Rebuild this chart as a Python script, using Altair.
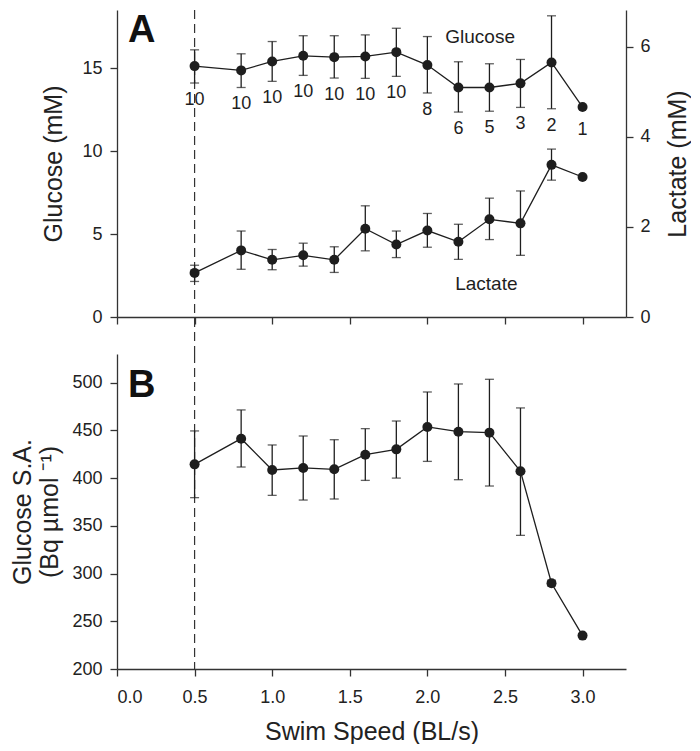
import altair as alt
import pandas as pd

# ---------------- data ----------------
speed = [0.5, 0.8, 1.0, 1.2, 1.4, 1.6, 1.8, 2.0, 2.2, 2.4, 2.6, 2.8, 3.0]

glucose    = [15.12, 14.86, 15.40, 15.74, 15.66, 15.70, 15.96, 15.18, 13.83, 13.83, 14.08, 15.34, 12.65]
glucose_lo = [14.10, 13.83, 14.20, 14.56, 14.40, 14.38, 14.50, 13.50, 12.35, 12.40, 12.63, 12.55, None]
glucose_hi = [16.10, 15.86, 16.60, 16.95, 16.95, 17.00, 17.40, 16.90, 15.38, 15.26, 15.52, 18.15, None]
n_fish     = ["10", "10", "10", "10", "10", "10", "10", "8", "6", "5", "3", "2", "1"]

lactate    = [0.98, 1.48, 1.27, 1.37, 1.27, 1.96, 1.61, 1.92, 1.67, 2.17, 2.08, 3.38, 3.11]
lactate_lo = [0.79, 1.06, 1.05, 1.13, 0.99, 1.47, 1.32, 1.55, 1.28, 1.72, 1.37, 3.04, None]
lactate_hi = [1.15, 1.91, 1.50, 1.64, 1.56, 2.47, 1.91, 2.30, 2.06, 2.64, 2.80, 3.73, None]

glucose_sa    = [414.4, 441.3, 408.5, 410.6, 409.2, 424.5, 430.1, 453.6, 448.6, 447.6, 407.1, 289.8, 235.0]
glucose_sa_lo = [379.5, 411.6, 381.9, 377.0, 378.1, 397.6, 400.0, 417.5, 398.3, 391.7, 340.0, 287.0, None]
glucose_sa_hi = [449.4, 471.4, 434.7, 444.1, 440.2, 451.8, 459.8, 490.2, 498.6, 503.5, 473.5, 293.0, None]

x_ticks = [0.0, 0.5, 1.0, 1.5, 2.0, 2.5, 3.0]
glucose_ticks = [0, 5, 10, 15]
lactate_ticks = [0, 2, 4, 6]
sa_ticks = [200, 250, 300, 350, 400, 450, 500]
threshold_speed = [0.5]

# annotation anchors (data units)
series_label_text = ["Glucose"]
series_label_x = [2.34]
series_label_y = [16.9]
lactate_label_text = ["Lactate"]
lactate_label_x = [2.38]
lactate_label_y = [0.74]
panel_a = ["A"]
panel_a_x = [0.16]
panel_a_y = [17.25]
panel_b = ["B"]
panel_b_x = [0.16]
panel_b_y = [497.0]

# ---------------- styling ----------------
FONT = "Liberation Sans"
INK = "#1e1e1e"
AXIS_INK = "#333333"
W = 509
H_TOP = 307
H_BOT = 315
GAP = 37
X_DOM = [0, 3.28]
G_DOM = [0, 18.5]
L_DOM = [0, 6.82]
SA_DOM = [200, 530]

df = pd.DataFrame({
    "speed": speed,
    "glucose": glucose, "glucose_lo": glucose_lo, "glucose_hi": glucose_hi,
    "n": n_fish,
    "lactate": lactate, "lactate_lo": lactate_lo, "lactate_hi": lactate_hi,
    "sa": glucose_sa, "sa_lo": glucose_sa_lo, "sa_hi": glucose_sa_hi,
})
df["n_anchor"] = df["glucose_lo"].fillna(df["glucose"] - 0.35)

df_g_err = df.dropna(subset=["glucose_lo"])
df_l_err = df.dropna(subset=["lactate_lo"])
df_s_err = df.dropna(subset=["sa_lo"])

x_scale = alt.Scale(domain=X_DOM, nice=False, zero=False)
x_top = alt.X("speed:Q", scale=x_scale,
              axis=alt.Axis(values=x_ticks, labels=False, title=None))
x_bot = alt.X("speed:Q", scale=x_scale,
              axis=alt.Axis(values=x_ticks, format=".1f", title="Swim Speed (BL/s)",
                            labelPadding=12, titlePadding=13))

# ---------------- top panel: glucose (left axis) ----------------
g_scale = alt.Scale(domain=G_DOM, nice=False, zero=True)
g_axis = alt.Axis(values=glucose_ticks, title="Glucose (mM)", orient="left", titlePadding=15)

base_g = alt.Chart(df)
g_line = base_g.mark_line(color=INK, strokeWidth=1.3).encode(
    x=x_top, y=alt.Y("glucose:Q", scale=g_scale, axis=g_axis))
g_err = alt.Chart(df_g_err).mark_rule(color=INK, strokeWidth=1.3).encode(
    x=x_top, y=alt.Y("glucose_lo:Q", scale=g_scale, axis=g_axis), y2="glucose_hi:Q")
g_cap_lo = alt.Chart(df_g_err).mark_tick(orient="horizontal", color=INK, size=9, thickness=1.3).encode(
    x=x_top, y=alt.Y("glucose_lo:Q", scale=g_scale, axis=g_axis))
g_cap_hi = alt.Chart(df_g_err).mark_tick(orient="horizontal", color=INK, size=9, thickness=1.3).encode(
    x=x_top, y=alt.Y("glucose_hi:Q", scale=g_scale, axis=g_axis))
g_pts = base_g.mark_circle(color=INK, size=100, opacity=1).encode(
    x=x_top, y=alt.Y("glucose:Q", scale=g_scale, axis=g_axis))
g_n = base_g.mark_text(font=FONT, fontSize=18, color=INK, baseline="middle", dy=17).encode(
    x=x_top, y=alt.Y("n_anchor:Q", scale=g_scale, axis=g_axis), text="n:N")
g_lab = alt.Chart(pd.DataFrame({"speed": series_label_x, "y": series_label_y, "t": series_label_text})).mark_text(
    font=FONT, fontSize=19, color=INK, baseline="middle").encode(
    x=x_top, y=alt.Y("y:Q", scale=g_scale, axis=g_axis), text="t:N")
a_lab = alt.Chart(pd.DataFrame({"speed": panel_a_x, "y": panel_a_y, "t": panel_a})).mark_text(
    font=FONT, fontSize=38, fontWeight="bold", color="#111111", baseline="middle").encode(
    x=x_top, y=alt.Y("y:Q", scale=g_scale, axis=g_axis), text="t:N")
dash_top = alt.Chart(pd.DataFrame({"speed": threshold_speed})).mark_rule(
    color="#333333", strokeWidth=1.2, strokeDash=[9, 5]).encode(
    x=x_top, y=alt.value(0), y2=alt.value(H_TOP + GAP))

gl_group = alt.layer(dash_top, g_err, g_cap_lo, g_cap_hi, g_line, g_pts, g_n, g_lab, a_lab)

# ---------------- top panel: lactate (right axis) ----------------
l_scale = alt.Scale(domain=L_DOM, nice=False, zero=True)
l_axis = alt.Axis(values=lactate_ticks, title="Lactate (mM)", orient="right",
                  titleAngle=270, titleBaseline="top", titlePadding=15, labelPadding=7)

base_l = alt.Chart(df)
l_line = base_l.mark_line(color=INK, strokeWidth=1.3).encode(
    x=x_top, y=alt.Y("lactate:Q", scale=l_scale, axis=l_axis))
l_err = alt.Chart(df_l_err).mark_rule(color=INK, strokeWidth=1.3).encode(
    x=x_top, y=alt.Y("lactate_lo:Q", scale=l_scale, axis=l_axis), y2="lactate_hi:Q")
l_cap_lo = alt.Chart(df_l_err).mark_tick(orient="horizontal", color=INK, size=9, thickness=1.3).encode(
    x=x_top, y=alt.Y("lactate_lo:Q", scale=l_scale, axis=l_axis))
l_cap_hi = alt.Chart(df_l_err).mark_tick(orient="horizontal", color=INK, size=9, thickness=1.3).encode(
    x=x_top, y=alt.Y("lactate_hi:Q", scale=l_scale, axis=l_axis))
l_pts = base_l.mark_circle(color=INK, size=100, opacity=1).encode(
    x=x_top, y=alt.Y("lactate:Q", scale=l_scale, axis=l_axis))
l_lab = alt.Chart(pd.DataFrame({"speed": lactate_label_x, "y": lactate_label_y, "t": lactate_label_text})).mark_text(
    font=FONT, fontSize=19, color=INK, baseline="middle").encode(
    x=x_top, y=alt.Y("y:Q", scale=l_scale, axis=l_axis), text="t:N")

la_group = alt.layer(l_err, l_cap_lo, l_cap_hi, l_line, l_pts, l_lab)

top = alt.layer(gl_group, la_group).resolve_scale(y="independent").properties(width=W, height=H_TOP)

# ---------------- bottom panel: glucose specific activity ----------------
s_scale = alt.Scale(domain=SA_DOM, nice=False, zero=False)
s_axis = alt.Axis(values=sa_ticks, title=["Glucose S.A.", "(Bq µmol ⁻¹)"], orient="left",
                  titlePadding=9, titleLineHeight=27)

base_s = alt.Chart(df)
s_line = base_s.mark_line(color=INK, strokeWidth=1.3).encode(
    x=x_bot, y=alt.Y("sa:Q", scale=s_scale, axis=s_axis))
s_err = alt.Chart(df_s_err).mark_rule(color=INK, strokeWidth=1.3).encode(
    x=x_bot, y=alt.Y("sa_lo:Q", scale=s_scale, axis=s_axis), y2="sa_hi:Q")
s_cap_lo = alt.Chart(df_s_err).mark_tick(orient="horizontal", color=INK, size=9, thickness=1.3).encode(
    x=x_bot, y=alt.Y("sa_lo:Q", scale=s_scale, axis=s_axis))
s_cap_hi = alt.Chart(df_s_err).mark_tick(orient="horizontal", color=INK, size=9, thickness=1.3).encode(
    x=x_bot, y=alt.Y("sa_hi:Q", scale=s_scale, axis=s_axis))
s_pts = base_s.mark_circle(color=INK, size=100, opacity=1).encode(
    x=x_bot, y=alt.Y("sa:Q", scale=s_scale, axis=s_axis))
b_lab = alt.Chart(pd.DataFrame({"speed": panel_b_x, "y": panel_b_y, "t": panel_b})).mark_text(
    font=FONT, fontSize=38, fontWeight="bold", color="#111111", baseline="middle").encode(
    x=x_bot, y=alt.Y("y:Q", scale=s_scale, axis=s_axis), text="t:N")
dash_bot = alt.Chart(pd.DataFrame({"speed": threshold_speed})).mark_rule(
    color="#333333", strokeWidth=1.2, strokeDash=[9, 5]).encode(
    x=x_bot, y=alt.value(0), y2=alt.value(H_BOT))

bottom = alt.layer(dash_bot, s_err, s_cap_lo, s_cap_hi, s_line, s_pts, b_lab).properties(width=W, height=H_BOT)

chart = alt.vconcat(top, bottom, spacing=GAP, bounds="flush").configure_view(
    stroke=None
).configure_axis(
    grid=False,
    domainColor=AXIS_INK, domainWidth=1.3,
    tickColor=AXIS_INK, tickWidth=1.3, tickSize=7,
    labelFont=FONT, labelFontSize=18, labelColor="#222222", labelPadding=8,
    titleFont=FONT, titleFontSize=25, titleFontWeight="normal", titleColor="#222222",
).properties(padding={"left": 2, "top": 1, "right": 0, "bottom": 0})

chart.save("out.html", embed_options={"renderer": "svg", "actions": False})
